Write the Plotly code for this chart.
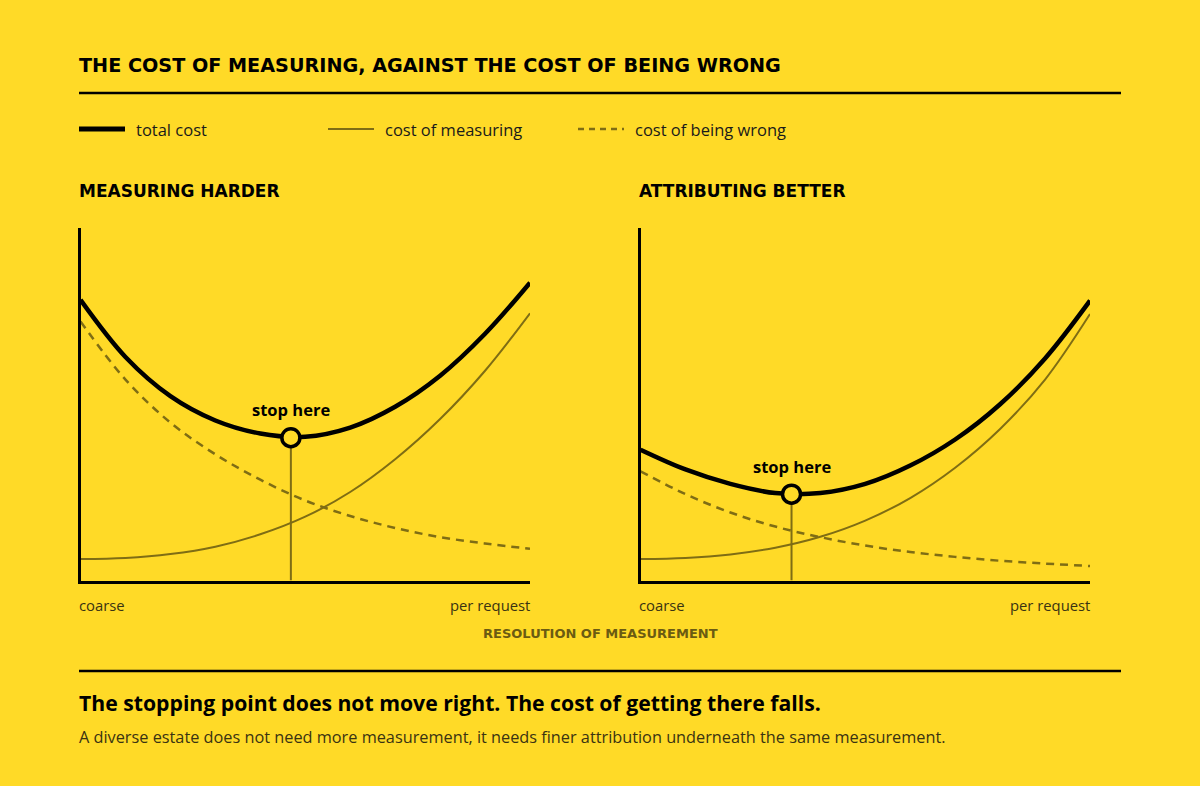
import plotly.graph_objects as go

# resolution of measurement, coarse (0) to per request (1)
resolution = [0.0, 0.1, 0.2, 0.3, 0.4, 0.5, 0.6, 0.7, 0.8, 0.9, 1.0]

# left panel: measuring harder
hard_measuring = [6.1, 6.4, 7.5, 9.6, 13.1, 18.1, 25.1, 34.4, 45.8, 59.5, 75.8]
hard_wrong = [73.5, 57.0, 44.8, 35.8, 28.6, 22.7, 18.3, 14.9, 12.3, 10.5, 9.0]
hard_total = [79.6, 63.4, 52.3, 45.4, 41.7, 40.8, 43.4, 49.3, 58.1, 70.0, 84.5]
hard_stop_x = 0.468
hard_stop_y = 40.5

# right panel: attributing better
easy_measuring = [6.1, 6.4, 7.4, 9.3, 12.4, 17.0, 23.4, 32.0, 43.0, 57.0, 75.6]
easy_wrong = [31.0, 24.5, 19.3, 15.3, 12.3, 9.9, 8.1, 6.7, 5.6, 4.8, 4.1]
easy_total = [37.1, 31.5, 27.4, 24.8, 24.8, 27.4, 32.6, 40.0, 50.0, 63.0, 79.4]
easy_stop_x = 0.336
easy_stop_y = 24.5

panel_titles = ["MEASURING HARDER", "ATTRIBUTING BETTER"]
series_names = ["total cost", "cost of measuring", "cost of being wrong"]

W, H = 1200, 786
BG = "#FFDA27"
OLIVE = "#7F6D14"
FONT = "Open Sans"
CAPS = "DejaVu Sans"


def px(x):
    return x / W


def py(y):
    return 1 - y / H


fig = go.Figure()

panels = [
    ("x", "y", hard_measuring, hard_wrong, hard_total, hard_stop_x, hard_stop_y),
    ("x2", "y2", easy_measuring, easy_wrong, easy_total, easy_stop_x, easy_stop_y),
]

for xa, ya, meas, wrong, total, sx, sy in panels:
    fig.add_trace(go.Scatter(x=resolution, y=wrong, xaxis=xa, yaxis=ya, mode="lines",
                             line=dict(color=OLIVE, width=2.5, dash="8px,6px", shape="spline"),
                             name=series_names[2], showlegend=False, hoverinfo="skip"))
    fig.add_trace(go.Scatter(x=resolution, y=meas, xaxis=xa, yaxis=ya, mode="lines",
                             line=dict(color=OLIVE, width=2, shape="spline"),
                             name=series_names[1], showlegend=False, hoverinfo="skip"))
    # drop line from the minimum
    fig.add_trace(go.Scatter(x=[sx, sx], y=[0, sy], xaxis=xa, yaxis=ya, mode="lines",
                             line=dict(color=OLIVE, width=2), showlegend=False, hoverinfo="skip"))
    fig.add_trace(go.Scatter(x=resolution, y=total, xaxis=xa, yaxis=ya, mode="lines",
                             line=dict(color="black", width=4.5, shape="spline"),
                             name=series_names[0], showlegend=False, hoverinfo="skip"))
    fig.add_trace(go.Scatter(x=[sx], y=[sy], xaxis=xa, yaxis=ya, mode="markers",
                             marker=dict(size=18, color=BG, line=dict(color="black", width=3.5)),
                             showlegend=False, hoverinfo="skip", cliponaxis=False))
    fig.add_annotation(x=sx, y=sy, xref=xa, yref=ya, text="stop here", showarrow=False,
                       yshift=28, font=dict(family=FONT, size=16.5, color="black", weight=700))

axis_common = dict(range=[0, 1], showgrid=False, zeroline=False, showticklabels=False,
                   ticks="", showline=True, linecolor="black", linewidth=2.5, fixedrange=True)
yaxis_common = dict(range=[0, 100], showgrid=False, zeroline=False, showticklabels=False,
                    ticks="", showline=True, linecolor="black", linewidth=2.5, fixedrange=True)

fig.update_layout(
    width=W, height=H,
    margin=dict(l=0, r=0, t=0, b=0),
    paper_bgcolor=BG, plot_bgcolor=BG,
    font=dict(family=FONT, color="#1a1a1a"),
    xaxis=dict(domain=[px(80.5), px(530)], anchor="y", **axis_common),
    yaxis=dict(domain=[py(580.5), py(228)], anchor="x", **yaxis_common),
    xaxis2=dict(domain=[px(640.5), px(1090)], anchor="y2", **axis_common),
    yaxis2=dict(domain=[py(580.5), py(228)], anchor="x2", **yaxis_common),
)

shapes = []
annos = []


def text(x, y, s, size, color="#1a1a1a", weight=400, anchor="left", family=FONT):
    # annotations carry ~2px of padding; compensate so the glyphs sit on x
    shift = {"left": -2, "right": 2, "center": 0}[anchor]
    annos.append(dict(x=px(x + shift), y=py(y), xref="paper", yref="paper", text=s, showarrow=False,
                      xanchor=anchor, yanchor="middle",
                      font=dict(family=family, size=size, color=color, weight=weight)))


def rule(y):
    shapes.append(dict(type="line", xref="paper", yref="paper", x0=px(79), x1=px(1121),
                       y0=py(y), y1=py(y), line=dict(color="black", width=2.5)))


text(79, 65, "THE COST OF MEASURING, AGAINST THE COST OF BEING WRONG", 19.2, "black", 700, family=CAPS)
rule(93)

# legend
legend_x = [79, 328, 578]
legend_styles = [dict(color="black", width=5), dict(color=OLIVE, width=2),
                 dict(color=OLIVE, width=2.5, dash="6px,5px")]
for lx, name, st in zip(legend_x, series_names, legend_styles):
    shapes.append(dict(type="line", xref="paper", yref="paper", x0=px(lx), x1=px(lx + 46),
                       y0=py(129), y1=py(129), line=st))
    text(lx + 57, 129, name, 16.5)

text(79, 191, panel_titles[0], 17, "black", 700, family=CAPS)
text(639, 191, panel_titles[1], 17, "black", 700, family=CAPS)

for left, right in [(79, 530), (639, 1090)]:
    text(left, 605, "coarse", 14.8, "#3a3312")
    text(right, 605, "per request", 14.8, "#3a3312", anchor="right")

text(600, 633, "RESOLUTION OF MEASUREMENT", 13, "#6b5b12", 700, anchor="center", family=CAPS)
rule(671)
text(79, 702, "The stopping point does not move right. The cost of getting there falls.", 21.2, "black", 700)
text(79, 737, "A diverse estate does not need more measurement, it needs finer attribution underneath the same measurement.",
     16.3, "#3a3312")

fig.update_layout(shapes=shapes, annotations=list(fig.layout.annotations) + annos)

fig.write_html("out.html", config={"displayModeBar": False},
               post_script="document.body.style.margin='0';")
